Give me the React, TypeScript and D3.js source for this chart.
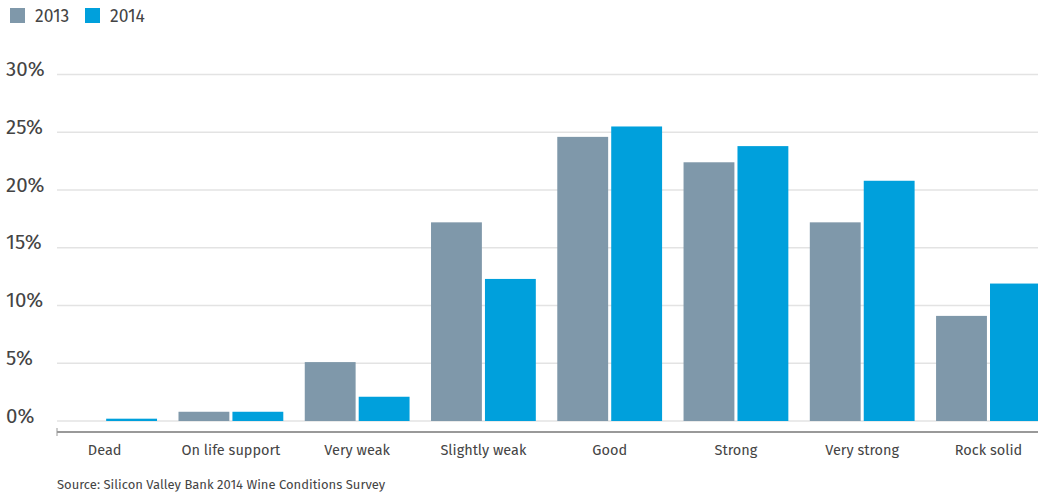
import React from "react";
import * as d3 from "d3";

const categories = ["Dead", "On life support", "Very weak", "Slightly weak", "Good", "Strong", "Very strong", "Rock solid"];
const seriesNames = ["2013", "2014"];
const values2013 = [0, 0.8, 5.1, 17.2, 24.6, 22.4, 17.2, 9.1];
const values2014 = [0.2, 0.8, 2.1, 12.3, 25.5, 23.8, 20.8, 11.9];
const yTicks = [0, 5, 10, 15, 20, 25, 30];
const colors = ["#7f98aa", "#00a0dc"];
const source = "Source: Silicon Valley Bank 2014 Wine Conditions Survey";

const W = 1038;
const H = 492;
const FONT = "'Fira Sans', 'Noto Sans', 'Open Sans', sans-serif";

export default function App() {
  const y = d3.scaleLinear().domain([0, 30]).range([421, 74.5]);
  const x = d3.scaleBand<string>().domain(categories).range([41.5, 1051.6]).paddingInner(0.17).paddingOuter(0.085);
  const x1 = d3.scaleBand<string>().domain(seriesNames).range([0, x.bandwidth()]).paddingInner(0.057);
  const series = [values2013, values2014];

  return (
    <svg width={W} height={H} style={{ position: "absolute", left: 0, top: 0, fontFamily: FONT }}>
      <rect width={W} height={H} fill="#fff" />
      {/* legend */}
      {seriesNames.map((s, i) => (
        <g key={s} transform={`translate(${10 + i * 75},0)`}>
          <rect x={0} y={8} width={15} height={15} fill={colors[i]} />
          <text x={25} y={22} fontSize={17.5} fill="#444">{s}</text>
        </g>
      ))}
      {/* gridlines & y labels */}
      {yTicks.map((t) => (
        <g key={t}>
          <line x1={57} x2={W} y1={y(t)} y2={y(t)} stroke="#e3e3e3" strokeWidth={1.5} />
          <text x={6} y={y(t) + 1.5} fontSize={20.5} fill="#444">{t}%</text>
        </g>
      ))}
      {/* bars */}
      {series.map((vals, si) =>
        vals.map((v, ci) => (
          <rect
            key={`${si}-${ci}`}
            x={(x(categories[ci]) as number) + (x1(seriesNames[si]) as number)}
            y={y(v)}
            width={x1.bandwidth()}
            height={y(0) - y(v)}
            fill={colors[si]}
          />
        ))
      )}
      {/* x axis */}
      <line x1={57} x2={W} y1={432} y2={432} stroke="#999" strokeWidth={2} />
      <line x1={57} x2={57} y1={428} y2={436} stroke="#999" strokeWidth={1} />
      {categories.map((c) => (
        <text key={c} x={(x(c) as number) + x.bandwidth() / 2} y={455} fontSize={14.5} fill="#444" textAnchor="middle">{c}</text>
      ))}
      <text x={57} y={489} fontSize={13} fill="#444">{source}</text>
    </svg>
  );
}
